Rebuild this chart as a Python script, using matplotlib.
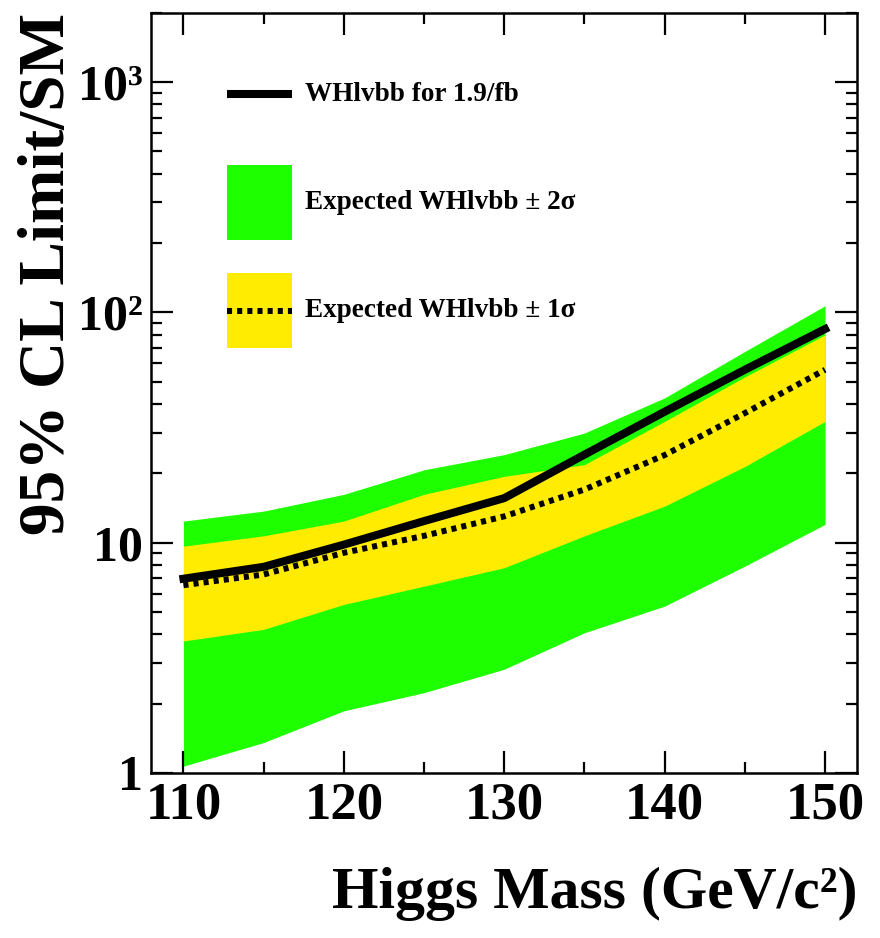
import matplotlib
matplotlib.use('Agg')
import matplotlib.pyplot as plt
from matplotlib.patches import Rectangle
from matplotlib.lines import Line2D
from matplotlib.ticker import FixedLocator, LogLocator, NullFormatter

plt.rcParams['font.family'] = ['Liberation Serif', 'DejaVu Serif']
plt.rcParams['font.weight'] = 'bold'

# values
mass = [110, 115, 120, 125, 130, 135, 140, 145, 150]
observed = [6.97, 7.85, 9.8, 12.4, 15.6, 24.1, 37.0, 56.3, 84.6]
expected = [6.53, 7.27, 9.03, 10.7, 13.0, 17.0, 24.0, 36.5, 56.3]
exp_m2 = [1.07, 1.355, 1.86, 2.23, 2.82, 4.06, 5.3, 7.9, 12.0]
exp_m1 = [3.74, 4.2, 5.39, 6.47, 7.78, 10.7, 14.4, 21.4, 33.6]
exp_p1 = [9.65, 10.7, 12.4, 16.2, 19.4, 21.8, 33.6, 52.4, 79.8]
exp_p2 = [12.4, 13.7, 16.2, 20.7, 24.1, 29.9, 42.5, 67.6, 106.7]

green = '#1eff00'
yellow = '#ffec00'

fig = plt.figure(figsize=(8.8, 9.38), dpi=100)
ax = fig.add_axes([0.172, 0.176, 0.802, 0.8105])

ax.fill_between(mass, exp_m2, exp_p2, color=green, lw=0)
ax.fill_between(mass, exp_m1, exp_p1, color=yellow, lw=0)
ax.plot(mass, observed, color='black', lw=5.8, solid_joinstyle='round')
ax.plot(mass, expected, color='black', lw=4.3, linestyle=(0, (0.85, 0.85)),
        dash_capstyle='butt')

ax.set_yscale('log')
ax.set_xlim(108, 152)
ax.set_ylim(1, 2000)

ax.set_xticks([110, 120, 130, 140, 150])
ax.xaxis.set_minor_locator(FixedLocator([115, 125, 135, 145]))
ax.set_yticks([1, 10, 100, 1000])
ax.set_yticklabels(['1', '10', '10\u00b2', '10\u00b3'])
ax.yaxis.set_minor_locator(LogLocator(base=10, subs=range(2, 10)))
ax.yaxis.set_minor_formatter(NullFormatter())

ax.tick_params(which='both', direction='in', top=True, right=True, width=1.6)
ax.tick_params(which='major', length=16)
ax.tick_params(which='minor', length=8)
ax.tick_params(axis='x', labelsize=38, pad=6)
ax.tick_params(axis='y', labelsize=36, pad=6)
for lab in ax.get_xticklabels() + ax.get_yticklabels():
    lab.set_fontweight('bold')
for s in ax.spines.values():
    s.set_linewidth(1.8)

ax.set_xlabel('Higgs Mass (GeV/c\u00b2)', fontsize=43, fontweight='bold',
              loc='right', labelpad=27)
ax.set_ylabel('95% CL Limit/SM', fontsize=47, fontweight='bold',
              loc='top', labelpad=0)

# legend drawn by hand
tr = ax.transAxes
ax.add_line(Line2D([0.107, 0.199], [0.893, 0.893], transform=tr,
                   color='black', lw=5.8, solid_capstyle='butt'))
ax.add_patch(Rectangle((0.107, 0.701), 0.092, 0.099, transform=tr,
                       color=green, lw=0))
ax.add_patch(Rectangle((0.107, 0.559), 0.092, 0.099, transform=tr,
                       color=yellow, lw=0))
ax.add_line(Line2D([0.107, 0.199], [0.608, 0.608], transform=tr,
                   color='black', lw=4.3, linestyle=(0, (0.85, 0.85)),
                   dash_capstyle='butt'))
txt = dict(transform=tr, fontsize=19.6, fontweight='bold', va='center', ha='left')
ax.text(0.217, 0.893, 'WHlvbb for 1.9/fb', **txt)
ax.text(0.217, 0.75, 'Expected WHlvbb \u00b1 2\u03c3', **txt)
ax.text(0.217, 0.608, 'Expected WHlvbb \u00b1 1\u03c3', **txt)

fig.savefig('out.png', dpi=100)
